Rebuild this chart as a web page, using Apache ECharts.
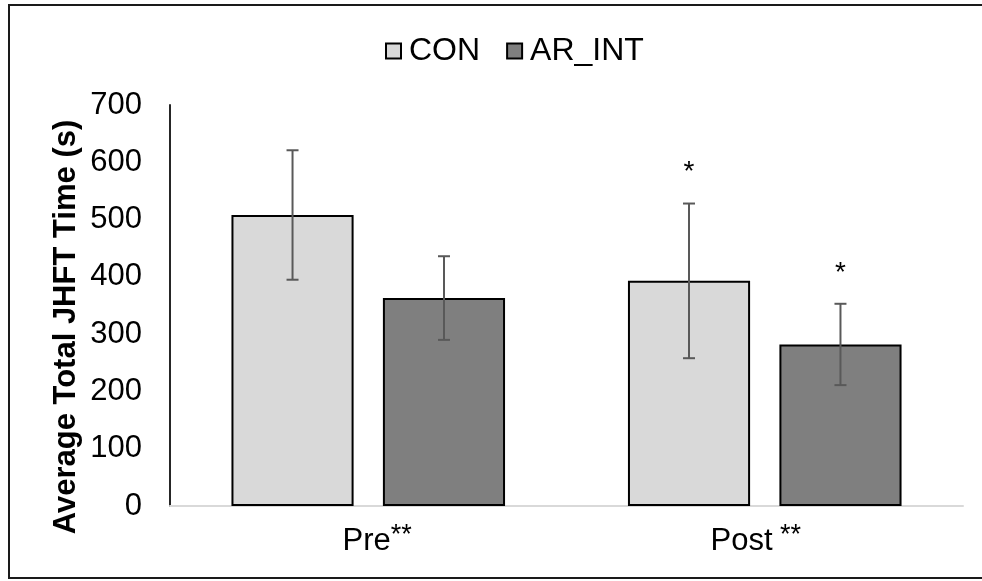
<!DOCTYPE html>
<html>
<head>
<meta charset="utf-8">
<title>Average Total JHFT Time</title>
<script src="https://cdn.jsdelivr.net/npm/echarts@6/dist/echarts.min.js"></script>
<style>
  html, body { margin: 0; padding: 0; background: #fff; }
  #chart { width: 982px; height: 581px; }
</style>
</head>
<body>
<div id="chart"></div>
<script>
// data
var categories = ['Pre', 'Post']
var catMarks = ['**', ' **']
var conMean = [508, 393]
var conSd = [113, 135]
var arMean = [363, 282]
var arSd = [73, 71]
var conStars = ['', '*']
var arStars = ['', '*']
var yTicks = [0, 100, 200, 300, 400, 500, 600, 700]

var FONT = '"Liberation Sans", Arial, sans-serif'
var GAP_CAT = 0.31
var GAP_BAR = 0.24

function errData(mean, sd) {
  return mean.map(function(m, i) { return [i, m - sd[i], m + sd[i]] })
}

// error bars drawn beside the bar centers, plus the significance stars
function errRender(sign, stars) {
  return function(params, api) {
    var cat = api.value(0)
    var catW = api.size([1, 0])[0]
    var barW = catW * (1 - GAP_CAT) / (2 + GAP_BAR)
    var off = sign * (barW + barW * GAP_BAR) / 2
    var hi = api.coord([cat, api.value(2)])
    var lo = api.coord([cat, api.value(1)])
    var x = hi[0] + off
    var cap = 6
    var st = { stroke: '#595959', lineWidth: 2 }
    var children = [
      { type: 'line', shape: { x1: x, y1: hi[1], x2: x, y2: lo[1] }, style: st },
      { type: 'line', shape: { x1: x - cap, y1: hi[1], x2: x + cap, y2: hi[1] }, style: st },
      { type: 'line', shape: { x1: x - cap, y1: lo[1], x2: x + cap, y2: lo[1] }, style: st }
    ]
    var s = stars[params.dataIndex]
    if (s) {
      children.push({
        type: 'text',
        style: {
          x: x, y: hi[1] - 31, text: s, fill: '#000',
          font: '28px ' + FONT, textAlign: 'center', textVerticalAlign: 'middle'
        }
      })
    }
    return { type: 'group', children: children }
  }
}

var chart = echarts.init(document.getElementById('chart'))

chart.setOption({
  animation: false,
  backgroundColor: '#fff',
  textStyle: { fontFamily: FONT },
  legend: {
    top: 30,
    left: 380,
    icon: 'rect',
    itemWidth: 15,
    itemHeight: 15,
    itemGap: 26,
    data: ['CON', 'AR_INT'],
    textStyle: { fontSize: 32, color: '#000', padding: [0, 0, 0, 3] }
  },
  grid: {
    left: 170,
    right: 19,
    top: 105,
    bottom: 75
  },
  xAxis: {
    type: 'category',
    data: categories,
    axisLine: { lineStyle: { color: '#d9d9d9', width: 2 } },
    axisTick: { show: false },
    axisLabel: {
      margin: 16,
      formatter: function(v, i) {
        // Excel-style labels sit a little off the category centre
        var txt = '{a|' + v + '}{b|' + catMarks[i] + '}'
        return i === 0 ? '{pad|}' + txt : txt + '{pad|}'
      },
      rich: {
        pad: { width: 18 },
        a: { fontSize: 31, color: '#000', fontFamily: FONT },
        b: { fontSize: 27, color: '#000', fontFamily: FONT, verticalAlign: 'top', padding: [0, 0, 12, 0] }
      }
    }
  },
  yAxis: {
    type: 'value',
    min: yTicks[0],
    max: yTicks[yTicks.length - 1],
    interval: 100,
    splitLine: { show: false },
    axisTick: { show: false },
    axisLine: { show: true, lineStyle: { color: '#262626', width: 2 } },
    axisLabel: { fontSize: 31, color: '#000', margin: 28 }
  },
  graphic: [
    {
      type: 'rect',
      shape: { x: 9, y: 5, width: 990, height: 573 },
      style: { fill: 'none', stroke: '#1a1a1a', lineWidth: 2 }
    },
    {
      type: 'text',
      x: 66,
      y: 327,
      rotation: Math.PI / 2,
      style: {
        text: 'Average Total JHFT Time (s)',
        font: 'bold 31px ' + FONT,
        fill: '#000',
        textAlign: 'center',
        textVerticalAlign: 'middle'
      }
    }
  ],
  series: [
    {
      name: 'CON',
      type: 'bar',
      data: conMean,
      barGap: (GAP_BAR * 100) + '%',
      barCategoryGap: (GAP_CAT * 100) + '%',
      itemStyle: { color: '#d9d9d9', borderColor: '#000', borderWidth: 2 }
    },
    {
      name: 'AR_INT',
      type: 'bar',
      data: arMean,
      itemStyle: { color: '#7f7f7f', borderColor: '#000', borderWidth: 2 }
    },
    {
      type: 'custom',
      z: 5,
      renderItem: errRender(-1, conStars),
      encode: { x: 0, y: [1, 2] },
      data: errData(conMean, conSd)
    },
    {
      type: 'custom',
      z: 5,
      renderItem: errRender(1, arStars),
      encode: { x: 0, y: [1, 2] },
      data: errData(arMean, arSd)
    }
  ]
})
</script>
</body>
</html>
